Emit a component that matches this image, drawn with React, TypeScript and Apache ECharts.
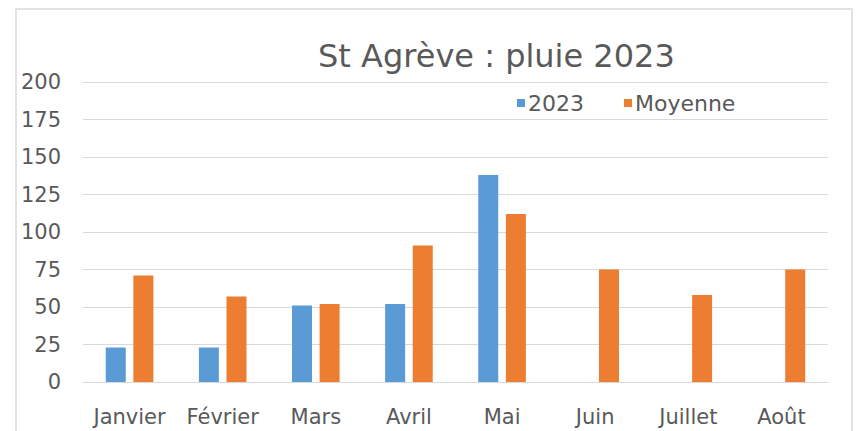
import React, { useEffect, useRef } from "react";
import * as echarts from "echarts";

const categories = ["Janvier", "Février", "Mars", "Avril", "Mai", "Juin", "Juillet", "Août"];
const values2023 = [23, 23, 51, 52, 138, null, null, null];
const valuesMoyenne = [71, 57, 52, 91, 112, 75, 58, 75];
const yTicks = { min: 0, max: 200, interval: 25 };

const FONT = "DejaVu Sans";
const TEXT = "#595959";

export default function App() {
  const ref = useRef<HTMLDivElement>(null);
  useEffect(() => {
    if (!ref.current) return;
    const chart = echarts.init(ref.current, undefined, { renderer: "svg" });
    chart.setOption({
      animation: false,
      backgroundColor: "#ffffff",
      title: {
        text: "St Agrève : pluie 2023",
        left: 318,
        top: 40,
        padding: 0,
        textStyle: { fontFamily: FONT, fontSize: 32, fontWeight: "normal", color: TEXT },
      },
      legend: {
        left: 517,
        top: 92,
        padding: 0,
        itemWidth: 8,
        itemHeight: 8,
        itemGap: 40,
        icon: "rect",
        textStyle: { fontFamily: FONT, fontSize: 22, color: TEXT, padding: [0, 0, 0, -2] },
        data: ["2023", "Moyenne"],
      },
      graphic: [
        {
          type: "rect",
          shape: { x: 16, y: 9, width: 836, height: 440 },
          style: { fill: "none", stroke: "#d9d9d9", lineWidth: 1.5 },
          silent: true,
        },
      ],
      grid: { left: 83, right: 28, top: 82, bottom: 49, containLabel: false },
      xAxis: {
        type: "category",
        data: categories,
        axisLine: { show: true, lineStyle: { color: "#d9d9d9", width: 1 } },
        axisTick: { show: false },
        axisLabel: { fontFamily: FONT, fontSize: 21, color: TEXT, margin: 24, interval: 0 },
      },
      yAxis: {
        type: "value",
        min: yTicks.min,
        max: yTicks.max,
        interval: yTicks.interval,
        axisLine: { show: false },
        axisTick: { show: false },
        splitLine: { lineStyle: { color: "#d9d9d9", width: 1 } },
        axisLabel: { fontFamily: FONT, fontSize: 21, color: TEXT, margin: 22 },
      },
      series: [
        {
          name: "2023",
          type: "bar",
          data: values2023,
          barWidth: 20,
          barGap: "38%",
          itemStyle: { color: "#5B9BD5" },
        },
        {
          name: "Moyenne",
          type: "bar",
          data: valuesMoyenne,
          barWidth: 20,
          barGap: "38%",
          itemStyle: { color: "#ED7D31" },
        },
      ],
    });
    return () => chart.dispose();
  }, []);
  return (
    <div
      ref={ref}
      style={{ position: "fixed", left: 0, top: 0, width: 856, height: 431, background: "#fff" }}
    />
  );
}
